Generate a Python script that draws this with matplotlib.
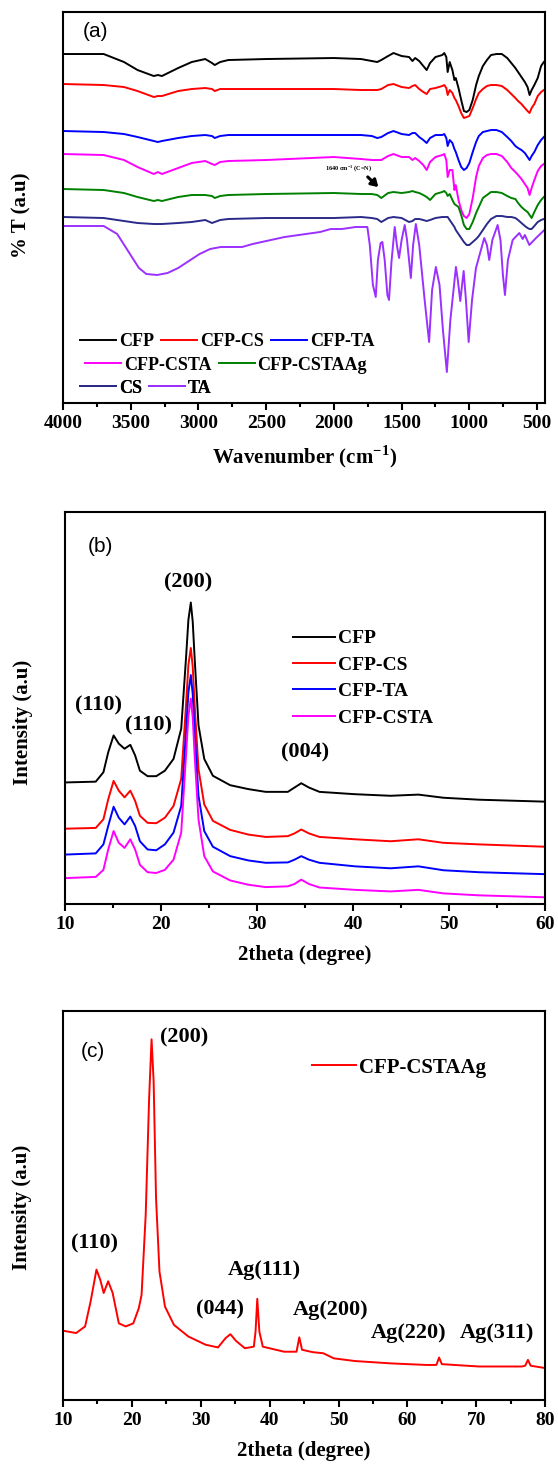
import matplotlib
matplotlib.use("Agg")
import matplotlib.pyplot as plt

plt.rcParams['font.family'] = ['Liberation Serif', 'DejaVu Serif']
plt.rcParams['font.weight'] = 'bold'
plt.rcParams['mathtext.fontset'] = 'custom'
plt.rcParams['mathtext.rm'] = 'Liberation Serif:bold'
plt.rcParams['mathtext.bf'] = 'Liberation Serif:bold'
plt.rcParams['axes.linewidth'] = 1.5

# ---------------- (a) FTIR ----------------
wavenumber = [4000, 3700, 3550, 3450, 3330, 3300, 3270, 3150, 3050, 2950, 2900, 2880, 2840, 2780,
              2500, 2000, 1800, 1720, 1680, 1650, 1600, 1560, 1500, 1445, 1420, 1400, 1370, 1340,
              1315, 1290, 1250, 1200, 1185, 1170, 1160, 1145, 1125, 1110, 1100, 1080, 1060, 1040,
              1020, 1000, 975, 950, 930, 900, 870, 840, 800, 760, 720, 690, 660, 640, 615, 590,
              570, 555, 540, 520, 495, 470, 450]
t_cfp = [346, 346, 338, 330, 324, 325, 324, 332, 338, 341, 337, 335, 338, 340, 341, 342, 341, 339,
         338, 340, 344, 347, 344, 343, 339, 342, 339, 334, 330, 337, 343, 345, 347, 343, 328, 338,
         330, 320, 322, 312, 300, 289, 288, 290, 300, 315, 324, 334, 340, 345, 346, 346, 342, 337,
         332, 328, 323, 318, 313, 305, 310, 315, 322, 334, 338]
t_cfp_cs = [316, 315, 313, 309, 303, 304, 304, 309, 311, 312, 311, 309, 311, 311, 311, 311, 310, 310,
            310, 311, 315, 316, 313, 312, 314, 315, 311, 308, 306, 311, 312, 314, 315, 312, 305, 310,
            307, 302, 300, 294, 287, 282, 283, 284, 292, 301, 307, 311, 314, 315, 315, 314, 310, 306,
            302, 299, 296, 292, 289, 287, 292, 296, 304, 308, 310]
t_cfp_ta = [269, 268, 266, 263, 259, 258, 259, 262, 264, 265, 264, 262, 264, 265, 265, 265, 265, 264,
            262, 263, 267, 269, 266, 265, 267, 267, 263, 260, 257, 262, 265, 265, 266, 262, 254, 260,
            257, 251, 248, 240, 233, 230, 232, 237, 248, 258, 264, 268, 269, 270, 270, 268, 263, 259,
            254, 252, 250, 247, 243, 240, 244, 248, 255, 260, 263]
t_cfp_csta = [246, 245, 240, 233, 226, 228, 226, 232, 237, 239, 236, 235, 238, 239, 240, 243, 241, 240,
              240, 240, 244, 246, 243, 243, 240, 242, 239, 235, 230, 238, 243, 245, 246, 240, 223, 230,
              230, 210, 215, 200, 190, 184, 182, 186, 202, 223, 234, 242, 245, 246, 246, 244, 238, 232,
              228, 225, 221, 216, 212, 205, 212, 220, 229, 234, 236]
t_cfp_cstaag = [211, 210, 207, 203, 199, 200, 199, 203, 205, 205, 204, 202, 204, 205, 206, 207, 206, 206,
                205, 202, 207, 208, 207, 208, 209, 208, 207, 205, 203, 200, 206, 208, 209, 207, 204, 206,
                200, 196, 195, 193, 185, 175, 171, 171, 178, 187, 193, 202, 205, 208, 208, 207, 204, 202,
                201, 197, 193, 190, 188, 185, 182, 188, 195, 200, 203]
t_cs = [183, 182, 179, 177, 176, 176, 176, 177, 178, 180, 177, 178, 180, 181, 182, 182, 183, 182,
        181, 178, 182, 183, 182, 178, 179, 181, 181, 180, 179, 180, 182, 183, 183, 183, 183, 180,
        176, 173, 170, 166, 162, 158, 155, 155, 158, 161, 164, 170, 176, 181, 184, 184, 183, 183,
        182, 180, 177, 174, 172, 171, 171, 174, 178, 180, 181]
wavenumber_ta = [4000, 3700, 3600, 3520, 3440, 3385, 3306, 3228, 3150, 3071, 2992, 2914, 2835, 2678,
                 2600, 2364, 2102, 2023, 1940, 1840, 1753, 1735, 1712, 1691, 1675, 1655, 1642, 1625,
                 1605, 1593, 1575, 1551, 1535, 1519, 1500, 1477, 1460, 1432, 1415, 1395, 1370, 1330,
                 1297, 1275, 1247, 1220, 1195, 1166, 1140, 1099, 1085, 1067, 1042, 1025, 1005, 980,
                 951, 890, 870, 853, 830, 791, 770, 752, 737, 715, 680, 631, 606, 590, 557, 500, 446]
t_ta = [174, 174, 166, 149, 132, 126, 125, 127, 132, 139, 146, 151, 153, 153, 156, 163, 168, 171,
        171, 173, 173, 155, 115, 103, 140, 157, 158, 140, 105, 100, 138, 173, 155, 142, 160, 175,
        160, 122, 155, 176, 155, 100, 58, 110, 133, 115, 70, 28, 80, 133, 120, 99, 129, 100,
        58, 100, 132, 162, 155, 140, 160, 175, 160, 125, 105, 140, 160, 167, 161, 165, 155, 163,
        170]

ftir_labels = ['CFP', 'CFP-CS', 'CFP-TA', 'CFP-CSTA', 'CFP-CSTAAg', 'CS', 'TA']
ftir_colors = ['#000000', '#ff0000', '#0000ff', '#ff00ff', '#008000', '#2a2a8a', '#9b30ff']

# ---------------- (b) XRD ----------------
two_theta_b = [10, 13.2, 14.0, 14.5, 15.06, 15.6, 16.2, 16.8, 17.3, 17.8, 18.6, 19.5, 20.4, 21.3,
               22.1, 22.6, 22.85, 23.1, 23.3, 23.5, 23.9, 24.5, 25.4, 27.2, 29.1, 30.9, 33.2, 33.9,
               34.6, 35.4, 36.5, 40.2, 43.9, 46.8, 49.4, 53.1, 60]
i_cfp = [31.0, 31.2, 33.6, 38.7, 43.0, 40.9, 39.6, 40.6, 37.9, 34.0, 32.6, 32.6, 34.0, 37.0,
         44.7, 62.7, 72.5, 76.9, 72.0, 62.7, 45.6, 37.0, 32.7, 30.3, 29.3, 28.6, 28.6, 29.7,
         30.8, 29.7, 28.6, 28.0, 27.6, 27.9, 27.1, 26.6, 26.1]
i_cfp_cs = [19.2, 19.4, 21.6, 26.7, 31.4, 28.9, 27.2, 28.9, 26.3, 22.5, 20.7, 20.6, 22.0, 25.0,
            31.9, 50.7, 61.0, 65.3, 60.5, 50.7, 34.4, 25.4, 21.2, 18.9, 17.7, 17.1, 17.3, 18.0,
            19.0, 18.0, 17.1, 16.5, 16.0, 16.5, 15.6, 15.2, 14.6]
i_cfp_ta = [12.6, 12.9, 15.2, 19.9, 24.8, 22.0, 20.3, 22.3, 19.9, 16.0, 13.9, 13.7, 15.2, 18.2,
            25.0, 43.9, 54.0, 58.4, 53.5, 43.9, 27.6, 18.6, 14.6, 12.2, 11.1, 10.5, 10.6, 11.3,
            12.2, 11.3, 10.5, 9.6, 9.1, 9.6, 8.6, 8.1, 7.6]
i_cfp_csta = [6.6, 6.9, 8.7, 13.9, 18.6, 15.6, 14.3, 16.5, 13.9, 10.0, 8.1, 7.9, 8.7, 11.3,
              18.2, 37.9, 48.0, 52.4, 47.5, 37.9, 21.6, 12.2, 8.3, 6.0, 4.9, 4.3, 4.5, 5.1,
              6.2, 5.1, 4.2, 3.6, 3.2, 3.6, 2.7, 2.2, 1.7]
xrd_labels = ['CFP', 'CFP-CS', 'CFP-TA', 'CFP-CSTA']
xrd_colors = ['#000000', '#ff0000', '#0000ff', '#ff00ff']
peaks_b = ['(110)', '(110)', '(200)', '(004)']
peaks_b_x = [13.5, 18.7, 22.8, 35.0]
peaks_b_y = [50.7, 45.6, 82.0, 38.7]

# ---------------- (c) XRD CFP-CSTAAg ----------------
two_theta_c = [10, 11.9, 13.2, 14.0, 14.85, 15.4, 15.9, 16.55, 17.2, 18.1, 19.1, 20.2, 21.0, 21.4,
               22.0, 22.5, 22.85, 23.15, 23.5, 24.0, 24.8, 26.1, 28.2, 30.7, 32.5, 33.6, 34.3,
               35.1, 36.4, 37.7, 37.95, 38.2, 38.5, 39.0, 42.1, 43.9, 44.3, 44.7, 46.2, 47.8,
               49.3, 52.4, 57.6, 62.7, 64.2, 64.6, 65.0, 70.4, 76.6, 77.1, 77.5, 77.9, 80]
i_cstaag = [17.8, 17.2, 18.9, 25.3, 33.5, 30.9, 27.5, 30.5, 27.5, 19.7, 18.9, 19.7, 23.6, 27.0,
            47.6, 77.7, 92.7, 82.0, 51.9, 33.0, 24.0, 19.3, 16.3, 14.2, 13.5, 15.9, 16.9,
            15.2, 13.3, 13.7, 17.6, 26.0, 17.6, 13.7, 12.4, 12.4, 16.1, 12.9, 12.3, 12.0,
            10.7, 10.0, 9.4, 9.0, 9.0, 10.9, 9.2, 8.6, 8.6, 8.8, 10.3, 8.8, 8.2]
peaks_c = ['(200)', '(110)', 'Ag(111)', '(044)', 'Ag(200)', 'Ag(220)', 'Ag(311)']
peaks_c_x = [27.6, 14.6, 39.2, 32.8, 48.8, 60.1, 73.0]
peaks_c_y = [93.1, 40.3, 33.5, 23.2, 23.2, 17.2, 17.2]

fig = plt.figure(figsize=(5.58, 14.67), dpi=100)
ax1 = fig.add_axes([0.113, 0.7253, 0.864, 0.2665])
ax2 = fig.add_axes([0.1165, 0.3838, 0.8605, 0.2672])
ax3 = fig.add_axes([0.113, 0.0457, 0.864, 0.2652])

for ax in (ax1, ax2, ax3):
    ax.tick_params(axis='x', which='major', direction='out', length=5, width=1.5,
                   labelsize=14, pad=4, top=False)
    ax.tick_params(axis='x', which='minor', direction='out', length=3, width=1.5, top=False)
    ax.set_yticks([])

# (a)
series_a = [t_cfp, t_cfp_cs, t_cfp_ta, t_cfp_csta, t_cfp_cstaag, t_cs]
lines = []
for vals, lab, col in zip(series_a, ftir_labels[:6], ftir_colors[:6]):
    ln, = ax1.plot(wavenumber, vals, color=col, lw=1.4, label=lab)
    lines.append(ln)
ln, = ax1.plot(wavenumber_ta, t_ta, color=ftir_colors[6], lw=1.4, label=ftir_labels[6])
lines.append(ln)
ax1.set_xlim(4000, 440)
ax1.set_ylim(-3, 388)
ax1.set_xticks(range(4000, 499, -500))
ax1.set_xticks(range(3750, 499, -500), minor=True)
ax1.set_xlabel('Wavenumber (cm$^{-1}$)', fontsize=15, fontweight='bold', labelpad=8)
ax1.set_ylabel('% T (a.u)', fontsize=15, fontweight='bold')
ax1.yaxis.set_label_coords(-0.066, 0.48)
ax1.text(0.068, 0.949, '(a)', transform=ax1.transAxes, fontsize=15, family='Liberation Sans',
         fontweight='normal', ha='center', va='center')
ax1.annotate('', xy=(1657, 211), xytext=(1765, 225),
             arrowprops=dict(arrowstyle='-|>,head_width=0.25,head_length=0.4', color='black', lw=2.2))
ax1.text(1893, 232, '1640 cm$^{-1}$ (C=N)', fontsize=4.5, ha='center', va='center')

rows = [([0, 1, 2], 0.035, 0.156), ([3, 4], 0.046, 0.097), ([5, 6], 0.035, 0.038)]
for idx, x0, y0 in rows:
    leg = ax1.legend([lines[i] for i in idx], [ftir_labels[i] for i in idx], ncol=len(idx),
                     loc='center left', bbox_to_anchor=(x0, y0), frameon=False, borderpad=0,
                     borderaxespad=0, handlelength=2.0, handletextpad=0.15, columnspacing=0.4,
                     prop={'size': 13, 'weight': 'bold'})
    ax1.add_artist(leg)

# (b)
for vals, lab, col in zip([i_cfp, i_cfp_cs, i_cfp_ta, i_cfp_csta], xrd_labels, xrd_colors):
    ax2.plot(two_theta_b, vals, color=col, lw=1.4, label=lab)
ax2.set_xlim(10, 60)
ax2.set_ylim(0, 100)
ax2.set_xticks(range(10, 61, 10))
ax2.set_xticks(range(15, 60, 10), minor=True)
ax2.set_xlabel('2theta (degree)', fontsize=15, fontweight='bold', labelpad=8)
ax2.set_ylabel('Intensity (a.u)', fontsize=15, fontweight='bold')
ax2.yaxis.set_label_coords(-0.066, 0.464)
ax2.text(0.073, 0.911, '(b)', transform=ax2.transAxes, fontsize=15, family='Liberation Sans',
         fontweight='normal', ha='center', va='center')
for txt, px, py in zip(peaks_b, peaks_b_x, peaks_b_y):
    ax2.text(px, py, txt, fontsize=16, fontweight='bold', ha='center', va='center')
ax2.legend(loc='center left', bbox_to_anchor=(0.474, 0.576), frameon=False, borderpad=0,
           borderaxespad=0, handlelength=2.2, handletextpad=0.15, labelspacing=0.45,
           prop={'size': 14, 'weight': 'bold'})

# (c)
ax3.plot(two_theta_c, i_cstaag, color='#ff0000', lw=1.4, label='CFP-CSTAAg')
ax3.set_xlim(10, 80)
ax3.set_ylim(0, 100)
ax3.set_xticks(range(10, 81, 10))
ax3.set_xticks(range(15, 80, 10), minor=True)
ax3.set_xlabel('2theta (degree)', fontsize=15, fontweight='bold', labelpad=8)
ax3.set_ylabel('Intensity (a.u)', fontsize=15, fontweight='bold')
ax3.yaxis.set_label_coords(-0.064, 0.496)
ax3.text(0.062, 0.895, '(c)', transform=ax3.transAxes, fontsize=15, family='Liberation Sans',
         fontweight='normal', ha='center', va='center')
for txt, px, py in zip(peaks_c, peaks_c_x, peaks_c_y):
    ax3.text(px, py, txt, fontsize=16, fontweight='bold', ha='center', va='center')
ax3.legend(loc='center left', bbox_to_anchor=(0.517, 0.854), frameon=False, borderpad=0,
           borderaxespad=0, handlelength=2.1, handletextpad=0.15,
           prop={'size': 15, 'weight': 'bold'})

fig.savefig('out.png', dpi=100)
